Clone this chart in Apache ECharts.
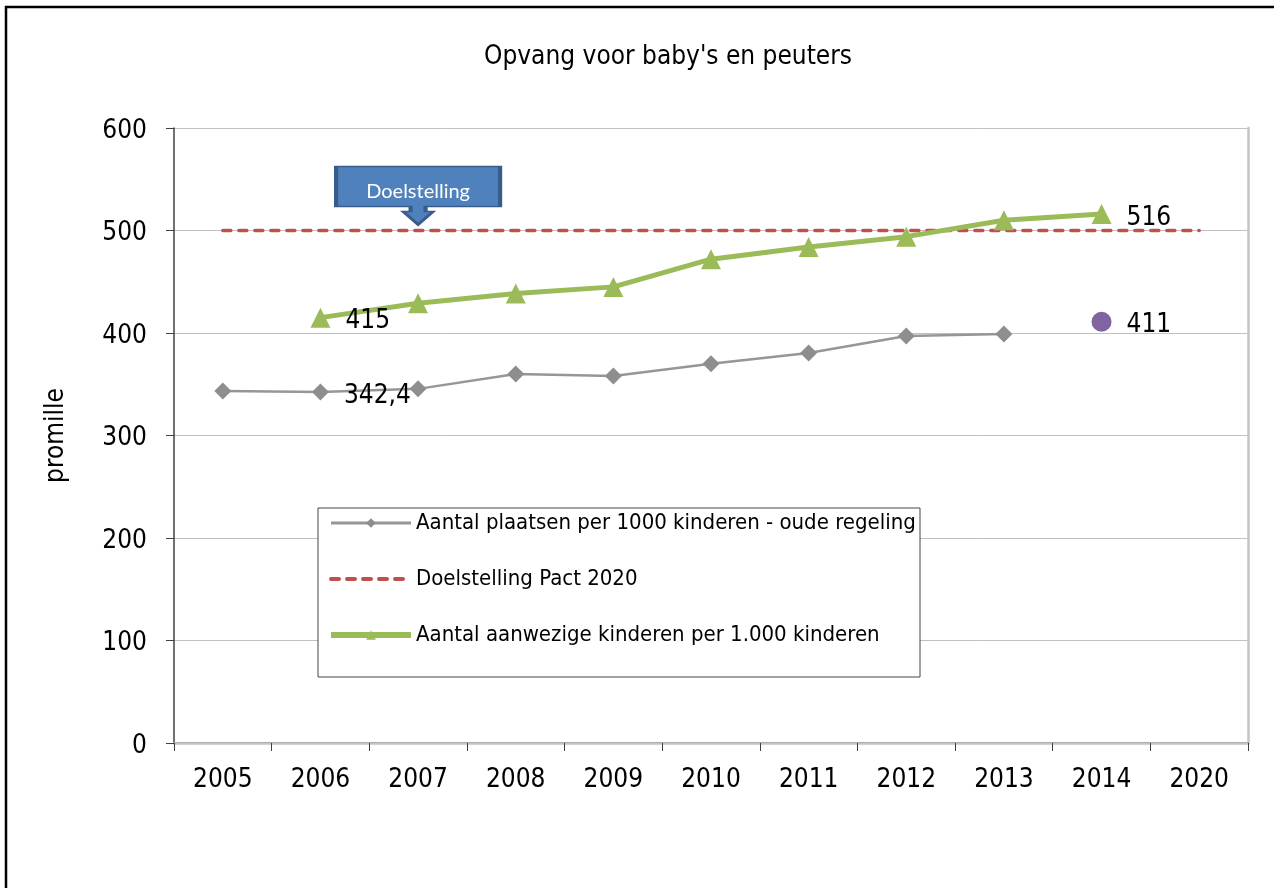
<!DOCTYPE html>
<html>
<head>
<meta charset="utf-8">
<script src="https://cdn.jsdelivr.net/npm/echarts@6/dist/echarts.min.js"></script>
<style>html,body{margin:0;padding:0;background:#fff;}#c{width:1274px;height:888px;}</style>
</head>
<body>
<div id="c"></div>
<script>
// ---- data ----
const categories = ['2005', '2006', '2007', '2008', '2009', '2010', '2011', '2012', '2013', '2014', '2020'];
const placesOld = [343.5, 342.4, 345.5, 360, 358, 370, 380.5, 397, 399, null, null];
const goalPact = [500, 500, 500, 500, 500, 500, 500, 500, 500, 500, 500];
const attending = [null, 415, 429, 438.5, 445, 472, 484, 494, 510, 516, null];
const attendingNew = [null, null, null, null, null, null, null, null, null, 411, null];
const yTicks = { min: 0, max: 600, interval: 100 };
const labelledPlacesOld = [1];
const labelledAttending = [1, 9];
const labelledAttendingNew = [9];
const seriesNames = [
  'Aantal plaatsen per 1000 kinderen - oude regeling',
  'Doelstelling Pact 2020',
  'Aantal aanwezige kinderen per 1.000 kinderen'
];
const goalCallout = { category: '2007', value: 500, text: 'Doelstelling' };

const FONT = "'DejaVu Sans Condensed', 'DejaVu Sans', sans-serif";
const fmt = v => String(v).replace('.', ',');
const lbl = { show: true, position: 'right', distance: 15, offset: [0, 4], color: '#000', fontSize: 26, fontFamily: FONT, formatter: p => fmt(p.value) };
function withLabels(arr, idx) {
  return arr.map((v, i) => (idx.indexOf(i) >= 0 && v != null) ? { value: v, label: lbl } : v);
}

const chart = echarts.init(document.getElementById('c'), null, { renderer: 'canvas' });
chart.setOption({
  animation: false,
  backgroundColor: '#fff',
  title: {
    text: "Opvang voor baby's en peuters",
    left: 479, top: 39,
    textStyle: { fontFamily: FONT, fontSize: 26, fontWeight: 'normal', color: '#000' }
  },
  graphic: [{
    type: 'rect', shape: { x: 6, y: 7, width: 1400, height: 1000 },
    style: { fill: 'none', stroke: '#000', lineWidth: 2.5 }, silent: true
  }],
  grid: { left: 174, right: 26, top: 128, bottom: 145, outerBoundsMode: 'none' },
  legend: {
    orient: 'vertical', left: 318, top: 508,
    data: [
      { name: seriesNames[0], lineStyle: { width: 3 } },
      { name: seriesNames[1], lineStyle: { width: 4 }, itemStyle: { opacity: 0 } },
      { name: seriesNames[2], lineStyle: { width: 6 } }
    ],
    backgroundColor: '#fff', borderColor: '#444', borderWidth: 1,
    padding: [3, 4, 30, 10],
    itemWidth: 80, itemHeight: 12, itemGap: 32,
    textStyle: { fontFamily: FONT, fontSize: 22, lineHeight: 24, color: '#000', width: 500 }
  },
  xAxis: [{
    type: 'category', data: categories, boundaryGap: true,
    axisLine: { lineStyle: { color: '#404040', width: 1.5 } },
    axisTick: { show: true, length: 8, lineStyle: { color: '#404040' } },
    axisLabel: { color: '#000', fontSize: 26, fontFamily: FONT, margin: 24, interval: 0 },
    splitLine: { show: false }
  }, {
    type: 'category', data: categories, position: 'top',
    axisLine: { lineStyle: { color: '#c4c4c4', width: 2.5 } },
    axisTick: { show: false }, axisLabel: { show: false }, splitLine: { show: false }
  }],
  yAxis: [{
    type: 'value', min: yTicks.min, max: yTicks.max, interval: yTicks.interval,
    name: 'promille', nameLocation: 'middle', nameGap: 105,
    nameTextStyle: { fontFamily: FONT, fontSize: 26, color: '#000' },
    axisLine: { show: true, lineStyle: { color: '#404040', width: 1.5 } },
    axisTick: { show: true, length: 8, lineStyle: { color: '#404040' } },
    axisLabel: { color: '#000', fontSize: 26, fontFamily: FONT, margin: 27, lineHeight: 32, verticalAlign: 'top', padding: [-13, 0, 0, 0] },
    splitLine: { show: true, lineStyle: { color: '#c0c0c0', width: 1 } }
  }, {
    type: 'value', min: yTicks.min, max: yTicks.max, interval: yTicks.interval, position: 'right',
    axisLine: { show: true, lineStyle: { color: '#c4c4c4', width: 2.5 } },
    axisTick: { show: false }, axisLabel: { show: false }, splitLine: { show: false }
  }],
  series: [{
    name: seriesNames[0], type: 'line', data: withLabels(placesOld, labelledPlacesOld),
    symbol: 'diamond', symbolSize: 17, showSymbol: true,
    lineStyle: { color: '#969696', width: 2.5 },
    itemStyle: { color: '#8e8e8e' }, z: 3
  }, {
    name: seriesNames[1], type: 'line', data: goalPact, symbol: 'none',
    lineStyle: { color: '#c0504d', width: 3.5, type: [8, 8], cap: 'round' },
    itemStyle: { color: '#c0504d' }, z: 2,
    markPoint: {
      silent: true, animation: false,
      symbol: 'path://M0,0 L164,0 L164,40 L89.5,40 L89.5,45 L97,45 L82,58 L67,45 L74.5,45 L74.5,40 L0,40 Z',
      symbolSize: [164, 58], symbolKeepAspect: false, symbolOffset: [0, -35],
      itemStyle: { color: '#4f81bd', borderColor: '#385d8a', borderWidth: 2.5 },
      label: { show: true, position: 'inside', offset: [0, -4], color: '#fff', fontSize: 20, fontFamily: 'Lato, sans-serif', formatter: goalCallout.text },
      data: [{ coord: [goalCallout.category, goalCallout.value] }]
    }
  }, {
    name: seriesNames[2], type: 'line', data: withLabels(attending, labelledAttending),
    symbol: 'triangle', symbolSize: 20,
    lineStyle: { color: '#9bbb59', width: 5 },
    itemStyle: { color: '#9bbb59' }, z: 4
  }, {
    name: 'Aantal aanwezige kinderen (nieuw)', type: 'line', data: withLabels(attendingNew, labelledAttendingNew),
    symbol: 'circle', symbolSize: 20, showSymbol: true,
    lineStyle: { width: 0 },
    itemStyle: { color: '#8064a2' }, z: 4
  }]
});
</script>
</body>
</html>
